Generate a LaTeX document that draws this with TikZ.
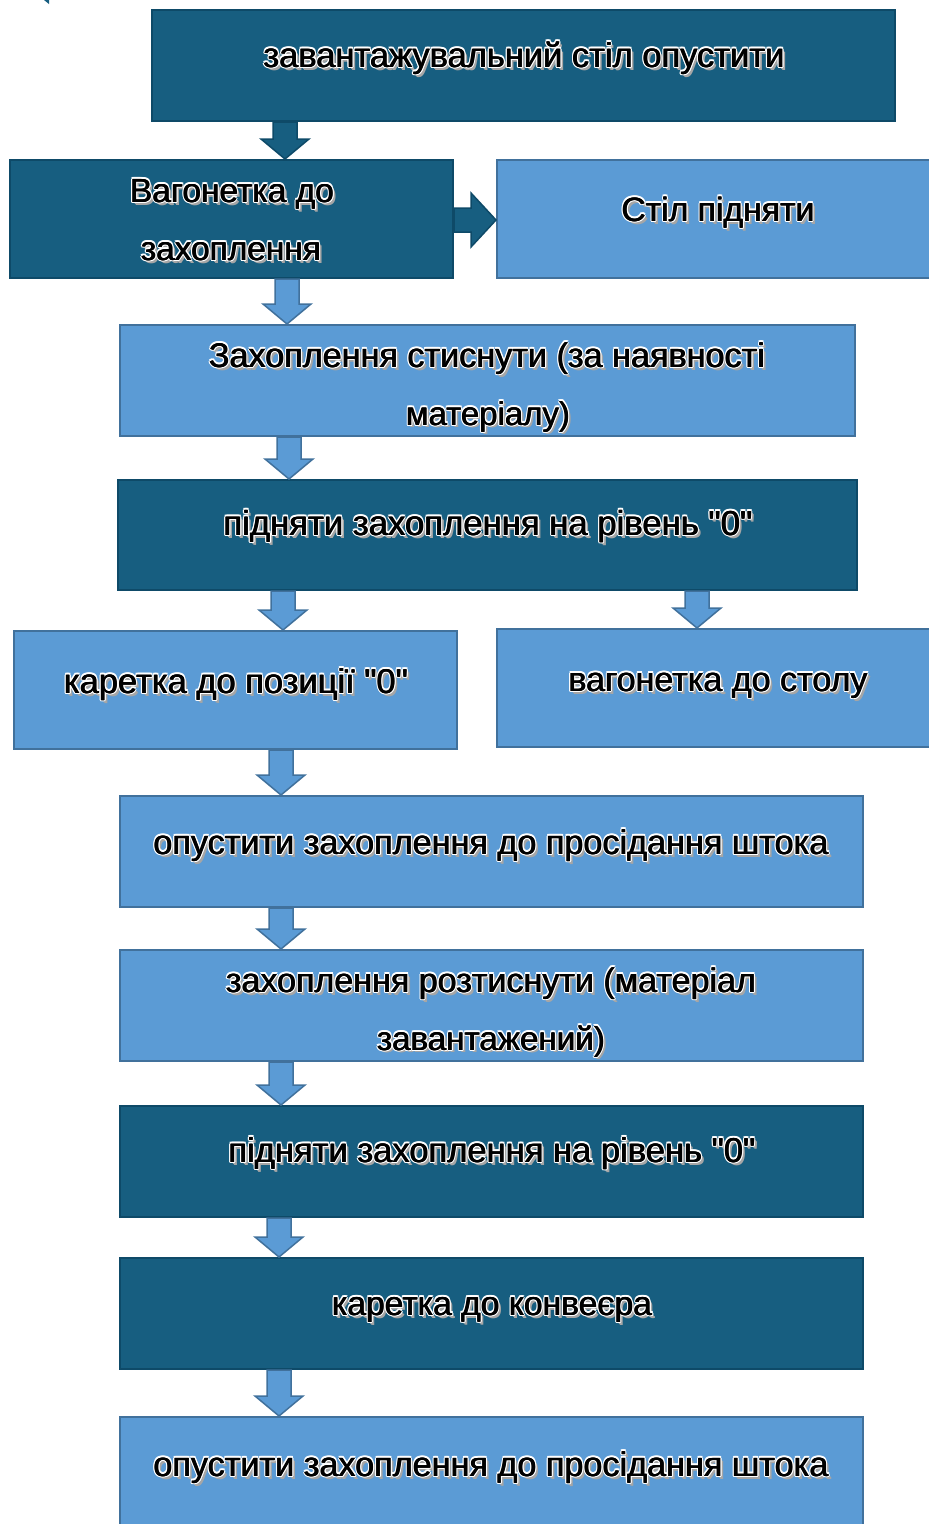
\documentclass[tikz,border=0pt]{standalone}
\usepackage{fontspec}
\setmainfont{Liberation Sans}
\usepackage{graphicx}
\usetikzlibrary{calc}
\definecolor{darkfill}{HTML}{175E80}
\definecolor{darkline}{HTML}{0E4A68}
\definecolor{lightfill}{HTML}{5B9BD5}
\definecolor{lightline}{HTML}{41719C}
\definecolor{shadowgray}{HTML}{A6A6A6}
\newcommand\wcp[3]{\rlap{\kern#1pt\raisebox{#2pt}{\textcolor{white}{#3}}}}
\newcommand\halo[1]{\leavevmode
  \rlap{\kern1.8pt\raisebox{-1.8pt}{\textcolor{shadowgray}{#1}}}%
  \rlap{\kern2.6pt\raisebox{-2.6pt}{\textcolor{shadowgray}{#1}}}%
  \wcp{1.3}{0}{#1}\wcp{-1.3}{0}{#1}\wcp{0}{1.3}{#1}\wcp{0}{-1.3}{#1}%
  \wcp{.9}{.9}{#1}\wcp{.9}{-.9}{#1}\wcp{-.9}{.9}{#1}\wcp{-.9}{-.9}{#1}%
  \rlap{\kern.35pt\textcolor{black}{#1}}%
  \rlap{\kern-.35pt\textcolor{black}{#1}}%
  \textcolor{black}{#1}}
\newcommand\tx[2]{\resizebox{#1pt}{!}{\halo{#2}}}
\newcommand\qq{\textquotedbl}
\tikzset{
  box/.style={rectangle, inner sep=0pt, line width=2pt},
  dbox/.style={box, fill=darkfill, draw=darkline},
  lbox/.style={box, fill=lightfill, draw=lightline},
  darr/.style={fill=darkfill, draw=darkline, line width=1.5pt, line join=miter},
  larr/.style={fill=lightfill, draw=lightline, line width=1.5pt, line join=miter},
  txt/.style={anchor=base, inner sep=0pt, font=\fontsize{29}{35}\selectfont}
}
\newcommand\blockdown[4]{%
  \path (#1.south -| #3,0) coordinate (s) (#2.north -| #3,0) coordinate (t);
  \draw[#4] ($(s)+(-12,0)$) -- ($(t)+(-12,-20)$) -- ($(t)+(-24,-20)$) -- (t)
    -- ($(t)+(24,-20)$) -- ($(t)+(12,-20)$) -- ($(s)+(12,0)$) -- cycle;}
\newcommand\blockright[4]{%
  \path (#1.east |- 0,#3) coordinate (s) (#2.west |- 0,#3) coordinate (t);
  \draw[#4] ($(s)+(0,-12)$) -- ($(t)+(-25,-12)$) -- ($(t)+(-25,-27)$) -- (t)
    -- ($(t)+(-25,27)$) -- ($(t)+(-25,12)$) -- ($(s)+(0,12)$) -- cycle;}
\begin{document}
\begin{tikzpicture}[x=1pt,y=-1pt]
\useasboundingbox (0,0) rectangle (929,1524);
\clip (0,0) rectangle (929,1524);
\fill[darkfill] (44,0) -- (49,0) -- (49,4) -- cycle;
% boxes
\node[dbox, minimum width=743pt, minimum height=111pt] (b1) at (523.5,65.5) {};
\node[dbox, minimum width=443pt, minimum height=118pt] (b2) at (231.5,219) {};
\node[lbox, minimum width=443pt, minimum height=118pt] (b3) at (718.5,219) {};
\node[lbox, minimum width=735pt, minimum height=111pt] (b4) at (487.5,380.5) {};
\node[dbox, minimum width=739pt, minimum height=110pt] (b5) at (487.5,535) {};
\node[lbox, minimum width=443pt, minimum height=118pt] (b6) at (235.5,690) {};
\node[lbox, minimum width=443pt, minimum height=118pt] (b7) at (718.5,688) {};
\node[lbox, minimum width=743pt, minimum height=111pt] (b8) at (491.5,851.5) {};
\node[lbox, minimum width=743pt, minimum height=111pt] (b9) at (491.5,1005.5) {};
\node[dbox, minimum width=743pt, minimum height=111pt] (b10) at (491.5,1161.5) {};
\node[dbox, minimum width=743pt, minimum height=111pt] (b11) at (491.5,1313.5) {};
\node[lbox, minimum width=743pt, minimum height=123pt] (b12) at (491.5,1478.5) {};
% arrows
\blockdown{b1}{b2}{285}{darr}
\blockright{b2}{b3}{220}{darr}
\blockdown{b2}{b4}{287}{larr}
\blockdown{b4}{b5}{289}{larr}
\blockdown{b5}{b6}{283}{larr}
\blockdown{b5}{b7}{697}{larr}
\blockdown{b6}{b8}{281}{larr}
\blockdown{b8}{b9}{281}{larr}
\blockdown{b9}{b10}{281}{larr}
\blockdown{b10}{b11}{279}{larr}
\blockdown{b11}{b12}{279}{larr}
% texts
\node[txt] (t1) at (524,67) {\tx{521}{завантажувальний стіл опустити}};
\node[txt] (t2a) at (232,202) {\tx{204}{Вагонетка до}};
\node[txt] (t2b) at (231,260) {\tx{180}{захоплення}};
\node[txt] (t3) at (718,221) {\tx{193}{Стіл підняти}};
\begin{scope}
\clip (121,326) rectangle (854,434);
\node[txt] (t4a) at (487,367) {\tx{556}{Захоплення стиснути (за наявності}};
\node[txt] (t4b) at (488,425) {\tx{164}{матеріалу)}};
\end{scope}
\node[txt] (t5) at (488,535) {\tx{529}{підняти захоплення на рівень \qq0\qq}};
\node[txt] (t6) at (236,693) {\tx{344}{каретка до позиції \qq0\qq}};
\node[txt] (t7) at (718,691) {\tx{299}{вагонетка до столу}};
\node[txt] (t8) at (491,854) {\tx{675}{опустити захоплення до просідання штока}};
\node[txt] (t9a) at (491,992) {\tx{530}{захоплення розтиснути (матеріал}};
\node[txt] (t9b) at (491,1050) {\tx{228}{завантажений)}};
\node[txt] (t10) at (492,1162) {\tx{527}{підняти захоплення на рівень \qq0\qq}};
\node[txt] (t11) at (492,1315) {\tx{320}{каретка до конвеєра}};
\node[txt] (t12) at (491,1476) {\tx{675}{опустити захоплення до просідання штока}};
\end{tikzpicture}
\end{document}
